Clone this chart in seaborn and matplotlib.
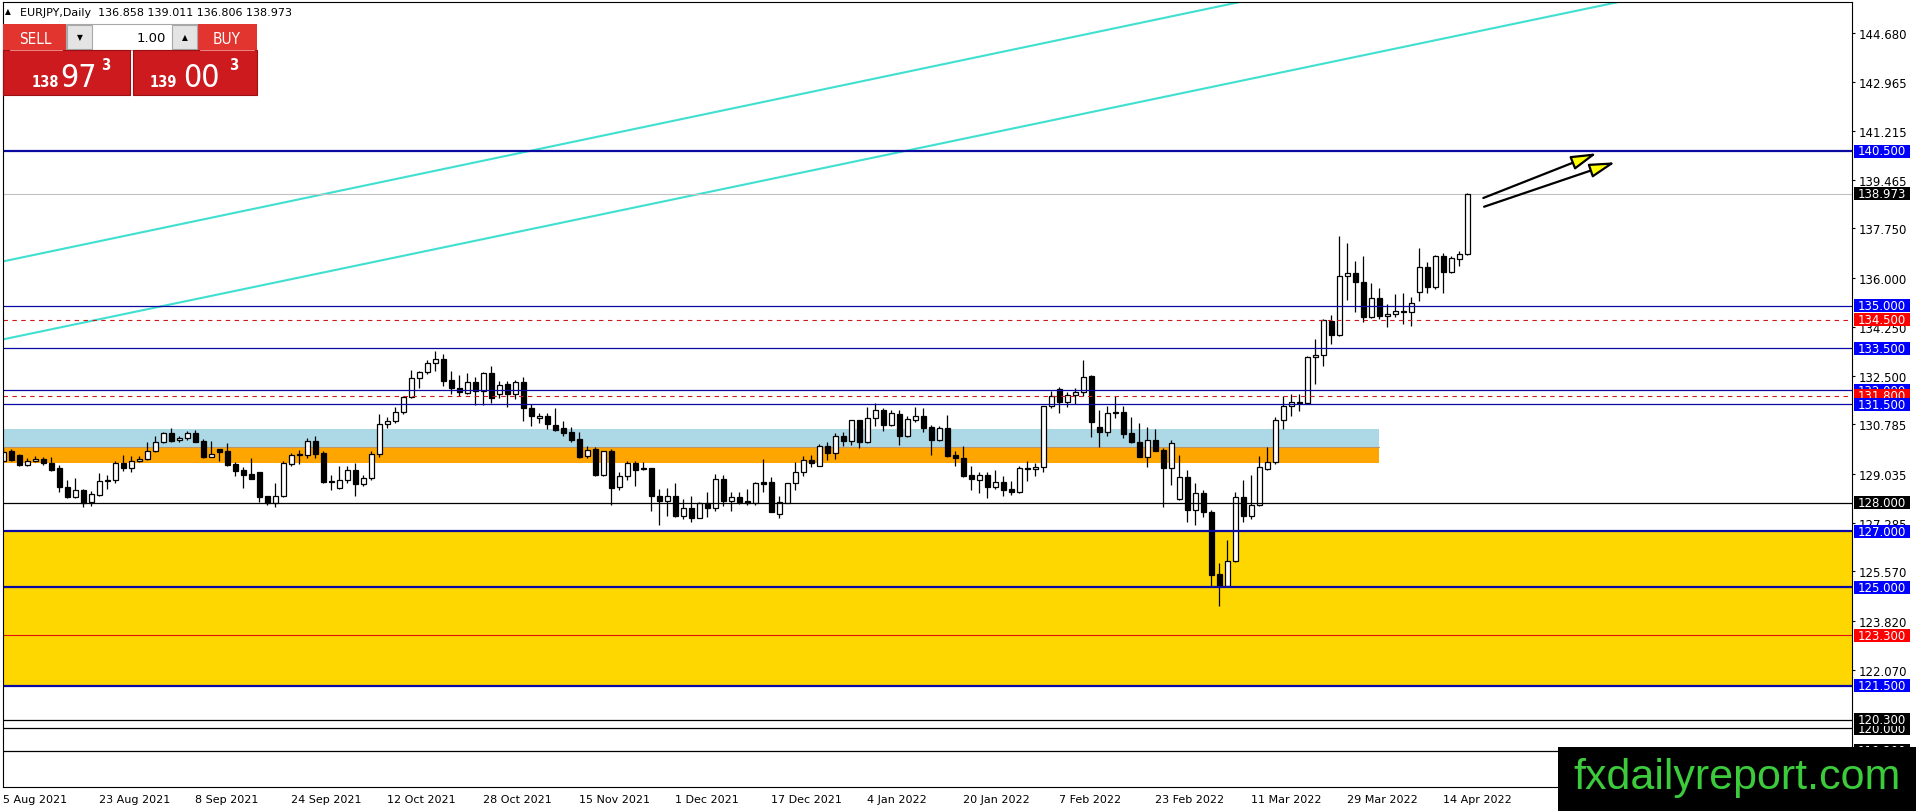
import numpy as np
import matplotlib
matplotlib.use("Agg")
import matplotlib.pyplot as plt
import matplotlib.transforms as mtransforms
from matplotlib.patches import Rectangle
from matplotlib import font_manager
import seaborn as sns

# ---------------- data ----------------
symbol = "EURJPY,Daily"
opens = [129.49,129.83,129.70,129.35,129.48,129.56,129.42,129.23,128.55,128.22,
         128.46,128.02,128.27,128.78,128.80,129.42,129.25,129.49,129.55,129.83,
         130.15,130.48,130.25,130.29,130.48,130.20,129.64,129.90,129.84,129.38,
         129.17,129.03,129.09,128.23,127.99,128.23,129.39,129.71,129.71,130.19,
         129.77,128.78,128.52,128.80,129.16,128.66,128.87,129.73,130.79,130.90,
         131.22,131.75,132.42,132.64,132.96,133.10,132.36,132.09,131.90,132.28,
         131.96,132.61,131.87,132.22,131.87,132.28,131.36,131.00,131.10,130.75,
         130.65,130.51,130.27,129.65,129.91,128.99,129.83,128.55,128.97,129.41,
         129.23,129.23,128.23,128.08,128.23,127.55,127.81,127.48,127.98,127.83,
         128.85,128.08,128.20,128.06,128.00,128.73,128.73,127.61,128.00,128.70,
         129.11,129.52,129.32,130.03,129.76,130.39,130.21,130.94,130.17,131.00,
         131.30,130.78,131.16,130.39,130.95,131.07,130.68,130.24,130.65,129.70,
         129.59,128.99,128.82,128.99,128.58,128.75,128.48,128.37,129.25,129.20,
         129.26,131.43,132.05,131.60,131.83,131.95,132.52,130.68,130.53,131.19,
         131.22,130.48,130.17,129.64,130.23,129.88,129.23,128.13,128.93,127.76,
         128.35,127.69,125.47,125.06,125.92,128.20,127.52,127.92,129.22,129.44,
         130.95,131.45,131.57,131.54,133.17,133.25,134.47,133.98,136.05,136.16,
         135.84,134.59,135.27,134.63,134.70,134.79,134.77,135.48,136.37,135.66,
         136.76,136.21,136.66,136.858]
highs = [129.94,129.91,129.72,129.58,129.68,129.62,129.62,129.35,128.81,128.87,
         128.48,128.43,129.06,128.99,129.47,129.70,129.68,129.68,130.15,130.36,
         130.53,130.65,130.39,130.57,130.60,130.27,130.19,129.91,130.13,129.46,
         129.26,129.59,129.10,128.26,128.69,129.48,129.76,129.88,130.31,130.39,
         129.83,128.99,129.30,129.32,129.41,128.99,129.86,131.16,131.04,131.39,
         131.81,132.72,132.70,133.09,133.41,133.29,132.70,132.54,132.60,132.46,
         132.64,132.85,132.34,132.34,132.38,132.46,131.51,131.19,131.19,131.36,
         130.92,130.68,130.51,130.03,129.97,129.85,129.91,129.08,129.50,129.50,
         129.44,129.24,128.50,128.53,128.69,128.12,128.26,128.02,128.38,129.03,
         129.00,128.38,128.38,128.49,128.73,129.56,128.93,128.23,128.71,129.44,
         129.65,129.70,130.09,130.15,130.48,130.53,130.96,130.96,131.39,131.55,
         131.36,131.30,131.31,131.10,131.39,131.36,130.77,130.72,131.12,129.85,
         130.01,129.32,129.08,129.08,129.17,128.97,128.76,129.32,129.50,129.42,
         131.45,131.99,132.10,131.93,132.07,133.09,132.54,131.31,131.45,131.81,
         131.45,131.04,130.84,130.71,130.62,129.94,130.25,129.70,129.17,128.71,
         128.46,127.75,125.86,126.68,128.40,128.81,128.99,129.65,129.97,131.04,
         131.81,131.87,131.87,133.23,133.82,134.53,134.67,137.49,137.23,136.60,
         136.76,135.81,135.62,135.07,135.42,135.46,135.33,137.06,136.57,136.81,
         136.87,136.78,136.96,139.011]
lows = [129.44,129.48,129.31,129.32,129.44,129.35,129.14,128.40,128.19,128.16,
        127.84,127.88,128.23,128.49,128.69,129.14,129.08,129.44,129.52,129.80,
        130.11,130.15,130.17,130.25,130.15,129.58,129.62,129.50,129.30,128.97,
        128.52,128.85,128.04,127.92,127.84,128.20,129.30,129.38,129.58,129.59,
        128.69,128.47,128.49,128.69,128.26,128.61,128.83,129.64,130.67,130.83,
        131.17,131.72,132.07,132.58,132.67,132.16,131.87,131.78,131.87,131.49,
        131.48,131.55,131.71,131.39,131.69,130.92,130.74,130.84,130.62,130.56,
        130.36,130.15,129.59,129.58,128.97,128.97,127.94,128.47,128.82,128.61,
        129.18,127.72,127.23,127.55,127.49,127.43,127.31,127.45,127.51,127.72,
        127.88,127.72,127.96,127.93,127.93,128.38,127.66,127.45,127.99,128.47,
        128.97,129.26,129.30,129.52,129.56,130.03,130.06,129.94,130.13,130.72,
        130.56,130.74,130.06,130.33,130.88,130.53,129.71,130.21,129.62,129.32,
        128.93,128.47,128.34,128.16,128.49,128.26,128.28,128.35,128.79,128.97,
        129.11,131.36,131.19,131.39,131.51,131.81,130.33,129.97,130.36,131.01,
        130.32,130.12,129.62,129.26,129.83,127.84,128.65,128.10,127.31,127.23,
        127.51,125.00,124.32,125.00,125.89,127.33,127.43,127.90,129.18,129.38,
        130.63,131.10,131.28,131.51,132.22,132.88,133.65,133.92,135.22,134.79,
        134.44,134.56,134.53,134.24,134.59,134.36,134.27,135.18,135.46,135.60,
        135.46,136.17,136.43,136.806]
closes = [129.82,129.52,129.33,129.49,129.56,129.40,129.18,128.55,128.22,128.46,
          128.00,128.33,128.77,128.81,129.42,129.25,129.49,129.56,129.83,130.15,
          130.47,130.21,130.29,130.48,130.17,129.64,129.74,129.82,129.35,129.14,
          129.00,128.86,128.20,127.99,128.23,129.42,129.70,129.74,130.19,129.75,
          128.75,128.73,128.80,129.16,128.66,128.87,129.73,130.79,130.90,131.22,
          131.75,132.42,132.66,132.96,133.10,132.34,132.07,131.94,132.28,131.96,
          132.61,131.71,132.20,131.87,132.28,131.36,131.10,131.10,130.79,130.60,
          130.48,130.24,129.63,129.89,128.99,129.83,128.52,128.97,129.40,129.18,
          129.19,128.23,128.08,128.23,127.55,127.81,127.48,127.98,127.83,128.85,
          128.08,128.20,128.04,128.00,128.70,128.68,127.69,128.02,128.70,129.11,
          129.52,129.41,130.03,129.76,130.39,130.21,130.94,130.17,131.00,131.30,
          130.78,131.18,130.39,130.98,131.07,130.66,130.24,130.65,129.68,129.58,
          128.94,128.85,128.99,128.58,128.75,128.46,128.37,129.24,129.20,129.27,
          131.43,131.81,131.60,131.83,131.95,132.46,130.88,130.53,131.19,131.24,
          130.45,130.15,129.64,130.23,129.85,129.23,130.12,128.93,127.76,128.35,
          127.66,125.45,125.03,125.93,128.20,127.52,127.92,129.26,129.44,130.95,
          131.45,131.57,131.54,133.17,133.25,134.50,133.98,136.05,136.16,135.84,
          134.59,135.27,134.63,134.70,134.81,134.77,135.09,136.37,135.66,136.76,
          136.21,136.69,136.84,138.973]

date_labels = ["5 Aug 2021", "23 Aug 2021", "8 Sep 2021", "24 Sep 2021", "12 Oct 2021",
               "28 Oct 2021", "15 Nov 2021", "1 Dec 2021", "17 Dec 2021", "4 Jan 2022",
               "20 Jan 2022", "7 Feb 2022", "23 Feb 2022", "11 Mar 2022", "29 Mar 2022",
               "14 Apr 2022"]
price_ticks = [144.680, 142.965, 141.215, 139.465, 137.750, 136.000, 134.250,
               132.500, 130.785, 129.035, 127.285, 125.570, 123.820, 122.070]

# horizontal levels
level_prices = [140.5, 135.0, 134.5, 133.5, 132.0, 131.8, 131.5, 128.0,
                127.0, 125.0, 123.3, 121.5, 120.3, 120.0, 119.2]
level_kinds = ["blue2", "blue", "reddash", "blue", "blue", "reddash", "blue", "black",
               "blue2", "blue2", "red", "blue2", "black", "black", "black"]
bid_price = 138.973
ask_price = 139.003

# zones (price ranges)
zone_yellow = (121.5, 127.0)
zone_lightblue = (130.0, 130.62)
zone_orange = (129.43, 130.0)
zone_end_bar = 171.96

# trend channel lines: (bar, price) pairs
trend_upper = [(0, 136.58), (150, 145.52)]
trend_lower = [(0, 133.81), (200, 145.68)]
# arrows: (start bar, start price, end bar, end price)
arrows = [(185.0, 138.83, 199.2, 140.42), (185.1, 138.52, 201.5, 140.10)]

# ---------------- style ----------------
sns.set_theme(style="white")
plt.rcParams["font.family"] = ["DejaVu Sans"]
plt.rcParams["axes.linewidth"] = 0.8

FW, FH = 1916, 812
fig = plt.figure(figsize=(FW / 100, FH / 100), dpi=100)
fig.patch.set_facecolor("white")
L, R, T, B = 2.7, 1852.0, 2.7, 788.3
ax = fig.add_axes([L / FW, 1 - B / FH, (R - L) / FW, (B - T) / FH])
ax.set_facecolor("white")

PX_PER_BAR = 8.0
X0 = 3.3
PX_PER_UNIT = 28.15
ax.set_xlim((L - X0) / PX_PER_BAR, (R - X0) / PX_PER_BAR)
ax.set_ylim(140.5 - (B - 152) / PX_PER_UNIT, 140.5 - (T - 152) / PX_PER_UNIT)

o = np.array(opens); h = np.array(highs); l = np.array(lows); c = np.array(closes)
x = np.arange(len(o))
up = c >= o

# zones
ax.add_patch(Rectangle((-10, zone_yellow[0]), 300, zone_yellow[1] - zone_yellow[0],
                       facecolor="#FFD700", edgecolor="none", zorder=1))
ax.add_patch(Rectangle((-10, zone_lightblue[0]), zone_end_bar + 10,
                       zone_lightblue[1] - zone_lightblue[0],
                       facecolor="#ADD8E6", edgecolor="none", zorder=1))
ax.add_patch(Rectangle((-10, zone_orange[0]), zone_end_bar + 10,
                       zone_orange[1] - zone_orange[0],
                       facecolor="#FFA500", edgecolor="none", zorder=1))
xl = ax.get_xlim()
ax.axhline(zone_orange[1], xmin=0, xmax=(zone_end_bar - xl[0]) / (xl[1] - xl[0]),
           color="#B8956A", lw=0.8, zorder=1.1)

# trend lines
for pts in (trend_upper, trend_lower):
    (xa, ya), (xb, yb) = pts
    slope = (yb - ya) / (xb - xa)
    xs = np.array([-5, 260])
    ax.plot(xs, ya + slope * (xs - xa), color="#40E0D0", lw=1.5, zorder=2,
            solid_capstyle="butt")

# bid line
ax.axhline(bid_price, color="#C0C0C0", lw=0.8, zorder=2)

# candles
ax.vlines(x, l, h, color="black", lw=0.9, zorder=3)
body_low = np.minimum(o, c)
body_h = np.maximum(np.abs(c - o), 0.035)
ax.bar(x[up], body_h[up], bottom=body_low[up], width=0.6, facecolor="white",
       edgecolor="black", linewidth=0.9, zorder=4)
ax.bar(x[~up], body_h[~up], bottom=body_low[~up], width=0.6, facecolor="black",
       edgecolor="black", linewidth=0.9, zorder=4)

# level lines
line_style = {
    "blue2": dict(color="#0A0AA0", lw=1.6, ls="-"),
    "blue": dict(color="#0A0AA0", lw=0.9, ls="-"),
    "reddash": dict(color="#D01818", lw=0.8, ls=(0, (4, 4))),
    "red": dict(color="#E01010", lw=0.8, ls="-"),
    "black": dict(color="black", lw=0.9, ls="-"),
}
box_col = {"blue2": "#0000FF", "blue": "#0000FF", "reddash": "#FF0000",
           "red": "#FF0000", "black": "black"}
for p, k in zip(level_prices, level_kinds):
    st = line_style[k]
    ax.axhline(p, color=st["color"], lw=st["lw"], ls=st["ls"], zorder=5)

# arrows
for xa, ya, xb, yb in arrows:
    ax.annotate("", xy=(xb, yb), xytext=(xa, ya),
                arrowprops=dict(arrowstyle="-|>,head_length=1.3,head_width=0.36",
                                facecolor="#FFFF00", edgecolor="black", lw=1.6,
                                shrinkA=0, shrinkB=0), zorder=7)

# axes / ticks
for s in ax.spines.values():
    s.set_color("black"); s.set_linewidth(0.8); s.set_zorder(8)
ax.yaxis.tick_right()
ax.set_yticks(price_ticks)
ax.set_yticklabels([f"{v:.3f}" for v in price_ticks])
ax.tick_params(axis="y", which="both", right=True, left=False, direction="out",
               length=2.5, width=0.8, pad=2.0, labelsize=8.5, colors="black")
ax.set_xticks(np.arange(0, len(o), 12))
ax.set_xticklabels(date_labels, ha="left")
ax.tick_params(axis="x", direction="out", length=3, width=0.8, pad=2.0,
               labelsize=8, colors="black")
ax.grid(False)

# right-side level label boxes
blend = mtransforms.blended_transform_factory(ax.transAxes, ax.transData)
def frac(px):
    return (px - L) / (R - L)
bh = 13 / PX_PER_UNIT
label_order = [(140.5, "blue2"), (bid_price, "black"), (135.0, "blue"), (134.5, "reddash"),
               (133.5, "blue"), (132.0, "blue"), (131.8, "reddash"), (131.5, "blue"),
               (128.0, "black"), (127.0, "blue2"), (125.0, "blue2"), (123.3, "red"),
               (121.5, "blue2"), (119.2, "black"), (120.0, "black"), (120.3, "black")]
for i, (p, k) in enumerate(label_order):
    z = 20 + i * 0.5
    ax.add_patch(Rectangle((frac(1854), p - bh / 2), frac(1910) - frac(1854), bh,
                           transform=blend, facecolor=box_col[k], edgecolor="none",
                           clip_on=False, zorder=z))
    ax.text(frac(1857.5), p, f"{p:.3f}", transform=blend, color="white", fontsize=8.5,
            ha="left", va="center", clip_on=False, zorder=z + 0.1)

# ---------------- overlay (panel, header, watermark) ----------------
ov = fig.add_axes([0, 0, 1, 1], zorder=10)
ov.set_xlim(0, FW); ov.set_ylim(FH, 0); ov.axis("off"); ov.patch.set_alpha(0)

names = {f.name for f in font_manager.fontManager.ttflist}
narrow = "Liberation Sans Narrow" if "Liberation Sans Narrow" in names else "DejaVu Sans"

ov.text(5, 12, "\u25B2", fontsize=5.5, ha="left", va="center", color="black")
ov.text(20, 12.5, f"{symbol}  {opens[-1]:.3f} {highs[-1]:.3f} {lows[-1]:.3f} {closes[-1]:.3f}",
        fontsize=8, ha="left", va="center", color="black")

red_btn = "#E2352F"; red_box = "#CC1A1E"
ov.add_patch(Rectangle((3, 25), 63, 26, facecolor=red_btn, edgecolor="none"))
ov.add_patch(Rectangle((197, 25), 60, 26, facecolor=red_btn, edgecolor="none"))
ov.add_patch(Rectangle((66, 25), 131, 26, facecolor="white", edgecolor="#A8A8A8", lw=0.8))
ov.add_patch(Rectangle((67, 26), 25, 24, facecolor="#E4E4E4", edgecolor="#A8A8A8", lw=0.8))
ov.add_patch(Rectangle((172, 26), 25, 24, facecolor="#E4E4E4", edgecolor="#A8A8A8", lw=0.8))
ov.add_patch(Rectangle((3, 51), 127, 45, facecolor=red_box, edgecolor="#9A1014", lw=0.8))
ov.add_patch(Rectangle((133, 51), 124, 45, facecolor=red_box, edgecolor="#9A1014", lw=0.8))
ov.plot([10, 62], [50.5, 50.5], color="#F08080", lw=0.8)
ov.plot([200, 254], [50.5, 50.5], color="#F08080", lw=0.8)
ov.text(35, 39, "SELL", fontsize=11, color="white", ha="center", va="center",
        fontstretch="condensed")
ov.text(227, 39, "BUY", fontsize=11, color="white", ha="center", va="center",
        fontstretch="condensed")
ov.text(79.5, 38, "\u25BC", fontsize=5.5, color="black", ha="center", va="center")
ov.text(184.5, 38, "\u25B2", fontsize=5.5, color="black", ha="center", va="center")
ov.text(166, 38.5, "1.00", fontsize=9.5, color="black", ha="right", va="center")

fam = [narrow, "DejaVu Sans"]
bid_s = f"{bid_price:.3f}"; ask_s = f"{ask_price:.3f}"
# (small-right-edge, big-centre, superscript-left)
for s, (xs_, xb_, xp_) in ((bid_s, (59, 79, 101)), (ask_s, (177, 201, 229))):
    big, rest = s.split(".")
    ov.text(xs_, 87, big, fontsize=10.5, fontweight="bold", color="white", ha="right",
            va="baseline", family=fam, fontstretch="condensed")
    ov.text(xb_, 87, rest[:2], fontsize=23, color="white", ha="center",
            va="baseline", family=fam, fontstretch="condensed")
    ov.text(xp_, 70, rest[2], fontsize=10.5, fontweight="bold", color="white",
            ha="left", va="baseline", family=fam, fontstretch="condensed")

ov.add_patch(Rectangle((1558, 748), 360, 66, facecolor="black", edgecolor="none"))
ov.text(1737, 778, "fxdailyreport.com", fontsize=31, color="#3BCB3B", ha="center",
        va="center", family=["Liberation Sans", "DejaVu Sans"])

fig.savefig("out.png", dpi=100)
